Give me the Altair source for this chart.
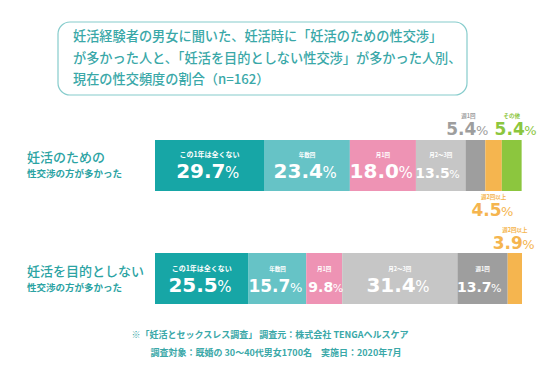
import altair as alt
import pandas as pd

groups = ["妊活のための", "妊活を目的としない"]
row_line1 = ["妊活のための", "妊活を目的としない"]
row_line2 = ["性交渉の方が多かった", "性交渉の方が多かった"]
categories = ["この1年は全くない", "年数回", "月1回", "月2～3回", "週1回", "週2回以上", "その他"]
colors = ["#17a6a6", "#66c3c6", "#ee93b4", "#c6c6c6", "#9e9e9e", "#f5b54f", "#8cc63e"]
values_g1 = [29.7, 23.4, 18.0, 13.5, 5.4, 4.5, 5.4]
values_g2 = [25.5, 15.7, 9.8, 31.4, 13.7, 3.9, 0.0]
placement_g1 = ["in", "in", "in", "in", "above", "below", "above"]
placement_g2 = ["in", "in", "in", "in", "in", "above", "none"]
title_lines = [
    "妊活経験者の男女に聞いた、妊活時に「妊活のための性交渉」",
    "が多かった人と、「妊活を目的としない性交渉」が多かった人別、",
    "現在の性交頻度の割合（n=162）",
]
footer_lines = [
    "※「妊活とセックスレス調査」 調査元：株式会社 TENGAヘルスケア",
    "調査対象：既婚の 30～40代男女1700名　実施日：2020年7月",
]

rows = []
for g, vals, pls in [(groups[0], values_g1, placement_g1), (groups[1], values_g2, placement_g2)]:
    for i, (c, v, p) in enumerate(zip(categories, vals, pls)):
        if v > 0:
            rows.append({"group": g, "category": c, "value": v, "order": i, "placement": p})
df = pd.DataFrame(rows)

rowdf = pd.DataFrame({"group": groups, "line1": row_line1, "line2": row_line2})

TEAL = "#3aa8a8"
JP = "Noto Sans CJK JP"
NUM = "DejaVu Sans"

xscale = alt.Scale(domain=[0, 100], range=[147, 514], nice=False, zero=False)
yscale = alt.Scale(domain=groups, range=[132, 296], paddingInner=0.549, paddingOuter=0)
cscale = alt.Scale(domain=categories, range=colors)

Y = alt.Y("group:N", scale=yscale, axis=None, bandPosition=0.5)
Yb = alt.Y("group:N", scale=yscale, axis=None)

stacked = (
    alt.Chart(df)
    .transform_stack(stack="value", groupby=["group"], as_=["x0", "x1"],
                     sort=[alt.SortField("order", order="ascending")])
    .transform_calculate(mid="(datum.x0 + datum.x1) / 2", num="format(datum.value, '.1f')")
)

bars = stacked.mark_bar().encode(
    x=alt.X("x0:Q", scale=xscale, axis=None),
    x2="x1:Q",
    y=Yb,
    color=alt.Color("category:N", scale=cscale, legend=None),
)

layers = [bars]

def pct(filt, size, psize, dx, dy, white):
    base = stacked.transform_filter(filt)
    col = alt.value("white") if white else alt.Color("category:N", scale=cscale, legend=None)
    n = base.mark_text(align="right", baseline="alphabetic", font=NUM, fontSize=size,
                       fontWeight="bold", dx=dx, dy=dy).encode(
        x=alt.X("mid:Q", scale=xscale, axis=None), y=Y, text="num:N", color=col)
    p = base.mark_text(align="left", baseline="alphabetic", font=NUM, fontSize=psize,
                       dx=dx - 0.5, dy=dy).encode(
        x=alt.X("mid:Q", scale=xscale, axis=None), y=Y, text=alt.value("%"), color=col)
    return [n, p]

def small(filt, size, dx, dy, white):
    base = stacked.transform_filter(filt)
    col = alt.value("white") if white else alt.Color("category:N", scale=cscale, legend=None)
    return [base.mark_text(align="center", baseline="middle", font=JP, fontSize=size,
                           fontWeight="bold", dx=dx, dy=dy).encode(
        x=alt.X("mid:Q", scale=xscale, axis=None), y=Y, text="category:N", color=col)]

# inside labels
layers += pct("datum.placement == 'in' && datum.value >= 17", 20, 15, 16, 13, True)
layers += pct("datum.placement == 'in' && datum.value >= 14 && datum.value < 17", 17, 13, 13, 13, True)
layers += pct("datum.placement == 'in' && datum.value < 14", 14, 11, 9, 13, True)
layers += small("datum.placement == 'in' && datum.order == 0", 7, 0, -10, True)
layers += small("datum.placement == 'in' && datum.order > 0", 5.5, 0, -10, True)

# outside labels
layers += pct("datum.placement == 'above' && datum.category == '週1回'", 17, 13, 1, -30, False)
layers += pct("datum.placement == 'above' && datum.category == 'その他'", 17, 13, 13, -30, False)
layers += pct("datum.placement == 'above' && datum.category == '週2回以上'", 17, 13, 8, -30, False)
layers += small("datum.placement == 'above' && datum.category == '週1回'", 5.5, -7, -49, False)
layers += small("datum.placement == 'above' && datum.category != '週1回'", 5.5, 0, -49, False)
layers += pct("datum.placement == 'below'", 17, 13, 8, 51, False)
layers += small("datum.placement == 'below'", 5.5, 0, 32, False)

# row labels
rowbase = alt.Chart(rowdf)
layers.append(rowbase.mark_text(align="left", baseline="middle", font=JP, fontSize=13,
                                fontWeight=500, color="#2ba3a3", dy=-7).encode(
    x=alt.value(19), y=Y, text="line1:N"))
layers.append(rowbase.mark_text(align="left", baseline="middle", font=JP, fontSize=9.5,
                                fontWeight="bold", color="#2ba3a3", dy=9).encode(
    x=alt.value(19), y=Y, text="line2:N"))

# title box
one = pd.DataFrame({"k": [0]})
layers.append(alt.Chart(one).mark_rect(cornerRadius=12, fill="white", fillOpacity=0,
                                       stroke="#86cccc", strokeWidth=1.2).encode(
    x=alt.value(50), x2=alt.value(459), y=alt.value(14), y2=alt.value(87)))
for i, (t, yy) in enumerate(zip(title_lines, [29, 51, 72])):
    layers.append(alt.Chart(one).mark_text(align="left", baseline="middle", font=JP,
                                           fontSize=13.2, fontWeight=500, color=TEAL).encode(
        x=alt.value(65), y=alt.value(yy), text=alt.value(t)))

# footer
for t, xx, yy in zip(footer_lines, [262, 268], [327, 345]):
    layers.append(alt.Chart(one).mark_text(align="center", baseline="middle", font=JP,
                                           fontSize=9, fontWeight="bold", color=TEAL).encode(
        x=alt.value(xx), y=alt.value(yy), text=alt.value(t)))

chart = alt.layer(*layers).properties(
    width=534, height=363,
    autosize=alt.AutoSizeParams(type="none"),
    padding=0,
    background="white",
).configure_view(stroke=None)

chart.save("out.html", embed_options={"renderer": "svg", "actions": False})
